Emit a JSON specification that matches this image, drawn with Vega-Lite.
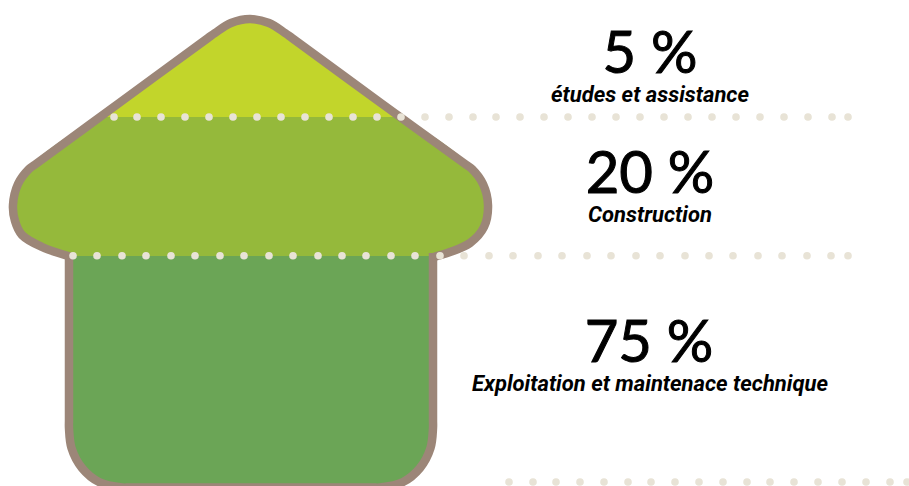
{
  "$schema": "https://vega.github.io/schema/vega-lite/v6.json",
  "width": 909,
  "height": 486,
  "padding": 0,
  "autosize": {"type": "none"},
  "background": "white",
  "config": {"view": {"stroke": null}},
  "datasets": {
    "sections": [
      {"part": "etudes", "y": 19, "left": 250, "right": 250},
      {"part": "etudes", "y": 20, "left": 236, "right": 264},
      {"part": "etudes", "y": 24, "left": 226, "right": 273},
      {"part": "etudes", "y": 33, "left": 214, "right": 286},
      {"part": "etudes", "y": 117, "left": 99, "right": 402},
      {"part": "construction", "y": 117, "left": 99, "right": 402},
      {"part": "construction", "y": 168, "left": 29, "right": 472},
      {"part": "construction", "y": 185, "left": 18, "right": 483},
      {"part": "construction", "y": 207, "left": 13, "right": 488},
      {"part": "construction", "y": 232, "left": 18, "right": 483},
      {"part": "construction", "y": 245, "left": 36, "right": 465},
      {"part": "construction", "y": 256, "left": 68, "right": 434},
      {"part": "exploitation", "y": 256, "left": 69, "right": 433},
      {"part": "exploitation", "y": 428, "left": 69, "right": 433},
      {"part": "exploitation", "y": 448, "left": 71.5, "right": 430.5},
      {"part": "exploitation", "y": 468, "left": 82, "right": 420},
      {"part": "exploitation", "y": 482, "left": 99, "right": 403},
      {"part": "exploitation", "y": 487.5, "left": 122, "right": 380}
    ],
    "outline": [
      {"run": "base", "step": 1, "x": 433, "y": 253},
      {"run": "base", "step": 2, "x": 433, "y": 262},
      {"run": "base", "step": 3, "x": 433, "y": 340},
      {"run": "base", "step": 4, "x": 433, "y": 420},
      {"run": "base", "step": 5, "x": 433, "y": 428},
      {"run": "base", "step": 6, "x": 430.5, "y": 448},
      {"run": "base", "step": 7, "x": 420, "y": 468},
      {"run": "base", "step": 8, "x": 403, "y": 482},
      {"run": "base", "step": 9, "x": 380, "y": 487.5},
      {"run": "base", "step": 10, "x": 372, "y": 487.5},
      {"run": "base", "step": 11, "x": 250, "y": 487.5},
      {"run": "base", "step": 12, "x": 130, "y": 487.5},
      {"run": "base", "step": 13, "x": 122, "y": 487.5},
      {"run": "base", "step": 14, "x": 99, "y": 482},
      {"run": "base", "step": 15, "x": 82, "y": 468},
      {"run": "base", "step": 16, "x": 71.5, "y": 448},
      {"run": "base", "step": 17, "x": 69, "y": 428},
      {"run": "base", "step": 18, "x": 69, "y": 420},
      {"run": "base", "step": 19, "x": 69, "y": 340},
      {"run": "base", "step": 20, "x": 69, "y": 262},
      {"run": "base", "step": 21, "x": 69, "y": 253},
      {"run": "roof", "step": 1, "x": 70, "y": 256.5},
      {"run": "roof", "step": 2, "x": 42, "y": 247},
      {"run": "roof", "step": 3, "x": 22, "y": 235},
      {"run": "roof", "step": 4, "x": 15, "y": 221},
      {"run": "roof", "step": 5, "x": 13, "y": 205},
      {"run": "roof", "step": 6, "x": 18, "y": 184},
      {"run": "roof", "step": 7, "x": 29, "y": 169},
      {"run": "roof", "step": 8, "x": 35, "y": 164.6},
      {"run": "roof", "step": 9, "x": 120, "y": 102.4},
      {"run": "roof", "step": 10, "x": 208, "y": 38},
      {"run": "roof", "step": 11, "x": 215, "y": 33},
      {"run": "roof", "step": 12, "x": 231, "y": 23},
      {"run": "roof", "step": 13, "x": 250, "y": 19},
      {"run": "roof", "step": 14, "x": 269, "y": 23},
      {"run": "roof", "step": 15, "x": 285, "y": 33},
      {"run": "roof", "step": 16, "x": 292, "y": 38},
      {"run": "roof", "step": 17, "x": 380, "y": 102.4},
      {"run": "roof", "step": 18, "x": 466, "y": 164.6},
      {"run": "roof", "step": 19, "x": 472, "y": 169},
      {"run": "roof", "step": 20, "x": 483, "y": 184},
      {"run": "roof", "step": 21, "x": 488, "y": 205},
      {"run": "roof", "step": 22, "x": 484, "y": 227},
      {"run": "roof", "step": 23, "x": 470, "y": 243},
      {"run": "roof", "step": 24, "x": 450, "y": 252},
      {"run": "roof", "step": 25, "x": 432, "y": 257.5}
    ],
    "dots": [
      {"x": 114, "y": 117}, {"x": 137, "y": 117}, {"x": 161, "y": 117}, {"x": 185, "y": 117},
      {"x": 209, "y": 117}, {"x": 233, "y": 117}, {"x": 257, "y": 117}, {"x": 281, "y": 117},
      {"x": 305, "y": 117}, {"x": 329, "y": 117}, {"x": 353, "y": 117}, {"x": 377, "y": 117},
      {"x": 401, "y": 117}, {"x": 425, "y": 117}, {"x": 449, "y": 117}, {"x": 473, "y": 117},
      {"x": 496, "y": 117}, {"x": 520, "y": 117}, {"x": 544, "y": 117}, {"x": 568, "y": 117},
      {"x": 592, "y": 117}, {"x": 616, "y": 117}, {"x": 640, "y": 117}, {"x": 664, "y": 117},
      {"x": 688, "y": 117}, {"x": 712, "y": 117}, {"x": 736, "y": 117}, {"x": 760, "y": 117},
      {"x": 784, "y": 117}, {"x": 808, "y": 117}, {"x": 832, "y": 117}, {"x": 848, "y": 117},
      {"x": 73, "y": 255.7}, {"x": 97, "y": 255.7}, {"x": 122, "y": 255.7}, {"x": 146, "y": 255.7},
      {"x": 171, "y": 255.7}, {"x": 195, "y": 255.7}, {"x": 220, "y": 255.7}, {"x": 244, "y": 255.7},
      {"x": 269, "y": 255.7}, {"x": 293, "y": 255.7}, {"x": 318, "y": 255.7}, {"x": 342, "y": 255.7},
      {"x": 366, "y": 255.7}, {"x": 391, "y": 255.7}, {"x": 415, "y": 255.7}, {"x": 440, "y": 255.7},
      {"x": 464, "y": 255.7}, {"x": 489, "y": 255.7}, {"x": 513, "y": 255.7}, {"x": 538, "y": 255.7},
      {"x": 562, "y": 255.7}, {"x": 587, "y": 255.7}, {"x": 611, "y": 255.7}, {"x": 636, "y": 255.7},
      {"x": 660, "y": 255.7}, {"x": 685, "y": 255.7}, {"x": 709, "y": 255.7}, {"x": 733, "y": 255.7},
      {"x": 758, "y": 255.7}, {"x": 782, "y": 255.7}, {"x": 807, "y": 255.7}, {"x": 831, "y": 255.7},
      {"x": 848, "y": 255.7},
      {"x": 509, "y": 482}, {"x": 533, "y": 482}, {"x": 556, "y": 482}, {"x": 580, "y": 482},
      {"x": 604, "y": 482}, {"x": 628, "y": 482}, {"x": 651, "y": 482}, {"x": 675, "y": 482},
      {"x": 699, "y": 482}, {"x": 723, "y": 482}, {"x": 747, "y": 482}, {"x": 770, "y": 482},
      {"x": 794, "y": 482}, {"x": 818, "y": 482}, {"x": 842, "y": 482}, {"x": 866, "y": 482},
      {"x": 890, "y": 482}, {"x": 907, "y": 482}
    ],
    "shares": [
      {"x": 650, "y": 73, "text": "5 %"},
      {"x": 650, "y": 193, "text": "20 %"},
      {"x": 649, "y": 362, "text": "75 %"}
    ],
    "labels": [
      {"x": 650, "y": 101.5, "text": "études et assistance"},
      {"x": 650, "y": 221.5, "text": "Construction"},
      {"x": 650, "y": 390.5, "text": "Exploitation et maintenace technique"}
    ]
  },
  "encoding": {
    "x": {"field": "x", "type": "quantitative", "scale": {"domain": [0, 909]}, "axis": null},
    "y": {"field": "y", "type": "quantitative", "scale": {"domain": [486, 0]}, "axis": null}
  },
  "layer": [
    {
      "data": {"name": "sections"},
      "mark": {"type": "area", "orient": "horizontal", "interpolate": "monotone", "clip": true},
      "encoding": {
        "y": {"field": "y", "type": "quantitative", "scale": {"domain": [486, 0]}, "axis": null},
        "x": {"field": "left", "type": "quantitative", "scale": {"domain": [0, 909]}, "axis": null},
        "x2": {"field": "right"},
        "color": {
          "field": "part",
          "type": "nominal",
          "legend": null,
          "scale": {
            "domain": ["etudes", "construction", "exploitation"],
            "range": ["#C2D52B", "#95B93B", "#6BA556"]
          }
        }
      }
    },
    {
      "data": {"name": "outline"},
      "mark": {"type": "line", "interpolate": "catmull-rom", "color": "#9C8678", "strokeWidth": 8.5, "clip": true},
      "encoding": {
        "detail": {"field": "run", "type": "nominal"},
        "order": {"field": "step", "type": "quantitative"}
      }
    },
    {
      "data": {"name": "dots"},
      "mark": {"type": "point", "shape": "circle", "filled": true, "size": 58, "opacity": 1, "color": "#E8E3D6", "clip": true}
    },
    {
      "data": {"name": "shares"},
      "mark": {"type": "text", "font": "Lato", "fontSize": 58, "fontWeight": 400, "stroke": "#000000", "strokeWidth": 1, "align": "center", "baseline": "alphabetic", "color": "#000000"},
      "encoding": {"text": {"field": "text", "type": "nominal"}}
    },
    {
      "data": {"name": "labels"},
      "mark": {"type": "text", "font": "Roboto", "fontSize": 22, "fontWeight": 700, "fontStyle": "italic", "align": "center", "baseline": "alphabetic", "color": "#000000"},
      "encoding": {"text": {"field": "text", "type": "nominal"}}
    }
  ]
}
